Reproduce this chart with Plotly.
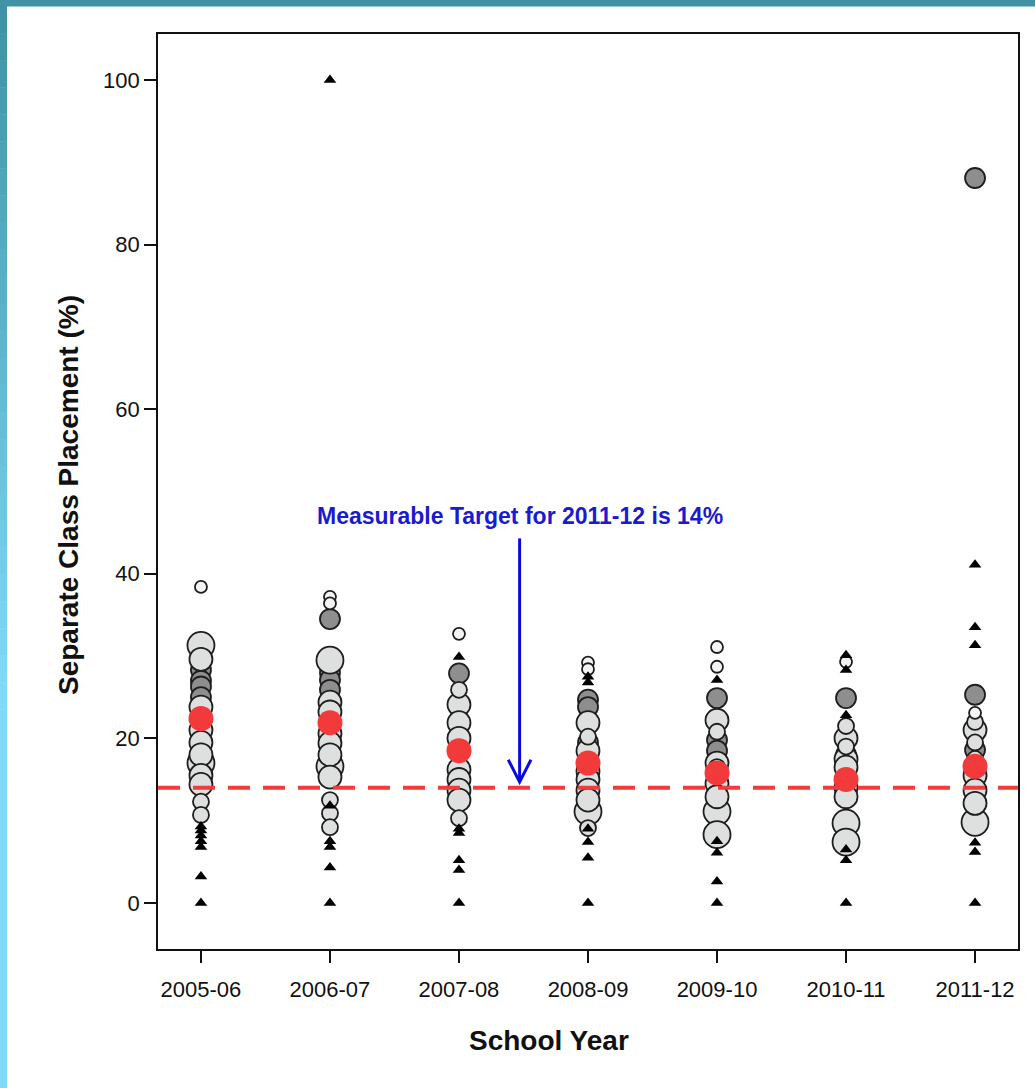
import plotly.graph_objects as go

# ---- data -------------------------------------------------------------
YEARS = ["2005-06", "2006-07", "2007-08", "2008-09", "2009-10", "2010-11", "2011-12"]

# statewide mean separate class placement (%) per school year
MEAN_PLACEMENT = [22.4, 21.9, 18.5, 17.0, 15.8, 15.0, 16.6]
TARGET_PCT = 14

# district placement rates (%) per school year, one inner list per year
LARGE_DISTRICTS = [
    [31.3, 17.0],
    [29.5, 16.6],
    [],
    [11.1],
    [11.1, 8.3],
    [9.7, 7.4],
    [9.8],
]
MID_DISTRICTS = [
    [29.6, 23.8, 21.0, 19.5, 18.0, 15.5, 14.4],
    [24.4, 23.2, 20.6, 19.4, 18.0, 15.3],
    [24.1, 21.9, 20.0, 16.2, 15.0, 13.7, 12.5],
    [21.9, 18.5, 16.0, 15.0, 13.7, 12.5],
    [22.2, 17.0, 14.5, 12.9],
    [20.0, 17.5, 16.5, 14.0, 12.9],
    [21.0, 15.5, 13.7, 12.1],
]
SMALL_DISTRICTS = [
    [12.3, 10.7],
    [12.5, 10.9, 9.2],
    [25.9, 10.3],
    [20.2, 9.1],
    [20.8, 16.5],
    [21.5, 19.0],
    [22.0, 19.5, 17.5],
]
CHARTER_DISTRICTS = [
    [28.3, 27.0, 26.3, 25.0],
    [34.5, 28.0, 27.1, 25.9],
    [27.9],
    [24.7, 23.8, 19.5],
    [24.9, 19.8, 18.5],
    [24.9, 18.0],
    [88.1, 25.3, 18.6],
]
TINY_DISTRICTS = [
    [38.4],
    [37.2, 36.4],
    [32.7],
    [29.2, 28.4],
    [31.1, 28.7],
    [29.3],
    [23.1],
]
UNDER_30_STUDENTS = [
    [9.3, 8.8, 8.2, 7.5, 6.8, 3.2, 0.0],
    [100.0, 11.8, 7.5, 6.8, 4.3, 0.0],
    [29.9, 9.0, 8.5, 5.2, 4.0, 0.0],
    [27.5, 26.8, 9.0, 7.4, 5.5, 0.0],
    [27.1, 7.5, 6.1, 2.6, 0.0],
    [30.1, 28.3, 22.8, 6.5, 5.2, 0.0],
    [41.1, 33.5, 31.3, 7.3, 6.2, 0.0],
]

# ---- styles -----------------------------------------------------------
OUTLINE = "#1e1e1e"
OUTLINE_W = 1.8
GROUPS = [
    (CHARTER_DISTRICTS, dict(symbol="circle", size=20, color="#8e8e8e", line=dict(color=OUTLINE, width=OUTLINE_W))),
    (LARGE_DISTRICTS, dict(symbol="circle", size=27, color="#dedfdf", line=dict(color=OUTLINE, width=OUTLINE_W))),
    (MID_DISTRICTS, dict(symbol="circle", size=23, color="#dedfdf", line=dict(color=OUTLINE, width=OUTLINE_W))),
    (SMALL_DISTRICTS, dict(symbol="circle", size=16, color="#dedfdf", line=dict(color=OUTLINE, width=OUTLINE_W))),
    (TINY_DISTRICTS, dict(symbol="circle", size=12, color="#f4f4f4", line=dict(color=OUTLINE, width=OUTLINE_W))),
    (UNDER_30_STUDENTS, dict(symbol="triangle-up", size=11, color="#000000", line=dict(width=0))),
]

FONT = "Arial, 'Liberation Sans', sans-serif"

fig = go.Figure()

for values, marker in GROUPS:
    xs = [i for i, year_vals in enumerate(values) for _ in year_vals]
    ys = [v for year_vals in values for v in year_vals]
    fig.add_trace(go.Scatter(x=xs, y=ys, mode="markers", marker=marker,
                             showlegend=False, hoverinfo="y"))

fig.add_trace(go.Scatter(
    x=list(range(len(YEARS))), y=MEAN_PLACEMENT, mode="markers",
    marker=dict(symbol="circle", size=25, color="#f23a3a", line=dict(width=0)),
    showlegend=False, hoverinfo="y"))

# target line
fig.add_shape(type="line", xref="paper", x0=0, x1=1, yref="y", y0=TARGET_PCT, y1=TARGET_PCT,
              line=dict(color="#f03c3c", width=4, dash="22px,13px"), layer="above")

# arrow pointing at the target line
ARROW_X = 2.47
ARROW_TOP = 44.3
ARROW_TIP = TARGET_PCT + 0.7
HEAD_W = 0.088
HEAD_H = 2.7
ARROW_BLUE = "#0a0ae0"
fig.add_shape(type="line", xref="x", yref="y", x0=ARROW_X, x1=ARROW_X, y0=ARROW_TOP, y1=ARROW_TIP,
              line=dict(color=ARROW_BLUE, width=3), layer="above")
fig.add_shape(type="path", xref="x", yref="y",
              path=f"M {ARROW_X - HEAD_W},{ARROW_TIP + HEAD_H} L {ARROW_X},{ARROW_TIP} L {ARROW_X + HEAD_W},{ARROW_TIP + HEAD_H}",
              line=dict(color=ARROW_BLUE, width=3), layer="above")
fig.add_annotation(x=ARROW_X, y=47.0, xref="x", yref="y", showarrow=False,
                   text="<b>Measurable Target for 2011-12 is 14%</b>",
                   font=dict(family=FONT, size=23, color="#1a1ad0"))

# page geometry (pixels) for items placed outside the plotting area
L_PX, R_PX, T_PX, B_PX = 158, 17, 34, 139
PW, PH = 1035 - L_PX - R_PX, 1088 - T_PX - B_PX
def px_x(px):
    return (px - L_PX) / PW
def px_y(py):
    return 1 - (py - T_PX) / PH

# axis titles
fig.add_annotation(xref="paper", yref="paper", x=px_x(549), y=px_y(1040), showarrow=False,
                   text="<b>School Year</b>", font=dict(family=FONT, size=28, color="#111111"),
                   xanchor="center", yanchor="middle")
fig.add_annotation(xref="paper", yref="paper", x=px_x(68), y=px_y(495), showarrow=False,
                   text="<b>Separate Class Placement (%)</b>", textangle=-90,
                   font=dict(family=FONT, size=28, color="#111111"),
                   xanchor="center", yanchor="middle")

# slide frame: teal top strip and a left strip fading to light cyan
fig.add_shape(type="rect", xref="paper", yref="paper", x0=px_x(0), x1=px_x(1035),
              y0=px_y(6.5), y1=px_y(0), fillcolor="#3f93a4", line=dict(width=0), layer="above")
top_rgb = (0x3f, 0x93, 0xa4)
bot_rgb = (0x7f, 0xd9, 0xf7)
steps = 40
for k in range(steps):
    t = k / (steps - 1)
    t = min(1.0, t * 1.6)
    c = tuple(round(a + (b - a) * t) for a, b in zip(top_rgb, bot_rgb))
    y_a = 6 + (1088 - 6) * k / steps
    y_b = 6 + (1088 - 6) * (k + 1) / steps
    fig.add_shape(type="rect", xref="paper", yref="paper", x0=px_x(0), x1=px_x(7),
                  y0=px_y(y_b + 0.5), y1=px_y(y_a), fillcolor=f"rgb{c}",
                  line=dict(width=0), layer="above")

fig.update_layout(
    width=1035, height=1088,
    margin=dict(l=L_PX, r=R_PX, t=T_PX, b=B_PX),
    paper_bgcolor="white", plot_bgcolor="white",
    font=dict(family=FONT, color="#111111"),
    xaxis=dict(
        range=[-0.333, 6.333], tickvals=list(range(len(YEARS))), ticktext=YEARS,
        showgrid=False, zeroline=False, showline=True, mirror=True,
        linecolor="#111111", linewidth=1.6, ticks="outside", ticklen=12,
        tickwidth=1.6, tickcolor="#111111", tickfont=dict(size=22),
        ticklabelstandoff=8,
    ),
    yaxis=dict(
        range=[-5.6, 105.6], tickvals=[0, 20, 40, 60, 80, 100],
        showgrid=False, zeroline=False, showline=True, mirror=True,
        linecolor="#111111", linewidth=1.6, ticks="outside", ticklen=12,
        tickwidth=1.6, tickcolor="#111111", tickfont=dict(size=22),
    ),
)

fig.write_html("out.html")
